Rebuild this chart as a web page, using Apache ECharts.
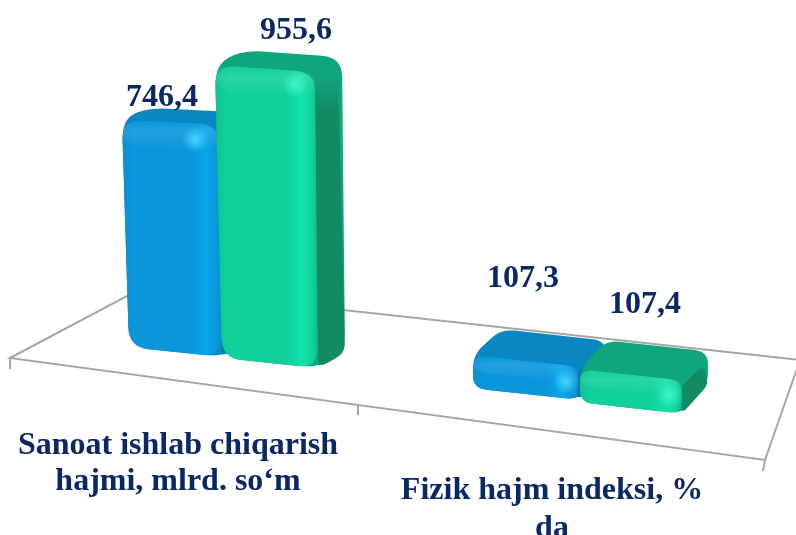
<!DOCTYPE html>
<html>
<head>
<meta charset="utf-8">
<style>html,body{margin:0;padding:0;background:#fff}#c{width:796px;height:535px}</style>
<script src="https://cdn.jsdelivr.net/npm/echarts@6/dist/echarts.min.js"></script>
</head>
<body>
<div id="c"></div>
<script>
var categories = ['Sanoat ishlab chiqarish\nhajmi, mlrd. so‘m', 'Fizik hajm indeksi, %\nda'];
var blueValues = [746.4, 107.3];
var greenValues = [955.6, 107.4];

var NAVY = '#0a2766';
var SKINS = [
  {top:'#0887c2', side:'#0778ad', edgeL:'#0a90d2', mid:'#0997da', bright:'#0aa6ec', edgeR:'#0a90cc', glow:'#45d4ff'},
  {top:'#10a67c', side:'#128a63', edgeL:'#0dc493', mid:'#10d19c', bright:'#13e3aa', edgeR:'#0fb88a', glow:'#3ff5c6'}
];
// perspective layout per [category][series], relative to the band centre
var GEO = [
  [{tl:-56,tr:40,bl:-49,br:44,shift:-11,ts:.05,bs:.1,dx:25,dy:-12,r:20,lx:-16,ly:-24,hx:-23,hy:15},
   {tl:37,tr:137,bl:44,br:140,shift:0,ts:.07,bs:.1,dx:27,dy:-15,r:20,lx:118,ly:-38,hx:-20,hy:12}],
  [{tl:-79,tr:26,bl:-79,br:26,shift:31,ts:.11,bs:.11,dx:28,dy:-26,r:13,lx:-29,ly:-82,hx:-12,hy:15},
   {tl:28,tr:130,bl:28,br:130,shift:45,ts:.11,bs:.11,dx:26,dy:-29,r:13,lx:93,ly:-70,hx:-12,hy:15}]
];

function roundPoly(pts, r) {
  var out = [], n = pts.length;
  for (var i = 0; i < n; i++) {
    var p = pts[i], a = pts[(i + n - 1) % n], b = pts[(i + 1) % n];
    var la = Math.hypot(a[0]-p[0], a[1]-p[1]), lb = Math.hypot(b[0]-p[0], b[1]-p[1]);
    var ra = Math.min(r, la/2), rb = Math.min(r, lb/2);
    var s = [p[0]+(a[0]-p[0])*ra/la, p[1]+(a[1]-p[1])*ra/la];
    var e = [p[0]+(b[0]-p[0])*rb/lb, p[1]+(b[1]-p[1])*rb/lb];
    for (var t = 0; t <= 1.001; t += 0.125) {
      var u = 1 - t;
      out.push([u*u*s[0]+2*u*t*p[0]+t*t*e[0], u*u*s[1]+2*u*t*p[1]+t*t*e[1]]);
    }
  }
  return out;
}

function barRenderer(seriesIdx) {
  return function (params, api) {
    var cat = api.value(0), val = api.value(1);
    var g = GEO[cat][seriesIdx], skin = SKINS[seriesIdx];
    var c = api.coord([cat, 0])[0];
    var y0 = api.coord([cat, 0])[1] + g.shift, y1 = api.coord([cat, val])[1] + g.shift;
    var w = g.tr - g.tl;
    var TL = [c+g.tl, y1 - g.ts*w/2], TR = [c+g.tr, y1 + g.ts*w/2];
    var BR = [c+g.br, y0 + g.bs*w/2], BL = [c+g.bl, y0 - g.bs*w/2];
    var bTL = [TL[0]+g.dx, TL[1]+g.dy], bTR = [TR[0]+g.dx, TR[1]+g.dy], bBR = [BR[0]+g.dx, BR[1]+g.dy];
    var sil = roundPoly([TL, bTL, bTR, bBR, BR, BL], g.r);
    var side = roundPoly([[TR[0]-2,TR[1]+8], [bTR[0]-g.dx*0.15,bTR[1]+g.r*0.9], [bBR[0],bBR[1]], [BR[0],BR[1]]], g.r*0.5);
    var front = roundPoly([TL, TR, BR, BL], g.r);
    var bevel = roundPoly([TL, TR, [TR[0]+(BR[0]-TR[0])*.1, TR[1]+Math.min(26,(BR[1]-TR[1])*.5)], [TL[0]+(BL[0]-TL[0])*.1, TL[1]+Math.min(26,(BL[1]-TL[1])*.5)]], g.r);
    var grad = {type:'linear',x:0,y:0,x2:1,y2:0,colorStops:[
      {offset:0,color:skin.edgeL},{offset:.12,color:skin.mid},{offset:.7,color:skin.mid},
      {offset:.84,color:skin.bright},{offset:.95,color:skin.mid},{offset:1,color:skin.edgeR}]};
    var bevelGrad = {type:'linear',x:0,y:0,x2:0,y2:1,colorStops:[
      {offset:0,color:'rgba(255,255,255,0)'},{offset:.35,color:'rgba(255,255,255,.1)'},{offset:1,color:'rgba(255,255,255,0)'}]};
    var sideGrad = {type:'linear',x:0,y:0,x2:0,y2:1,colorStops:[
      {offset:0,color:skin.top},{offset:.12,color:skin.side},{offset:1,color:skin.side}]};
    return {type:'group',children:[
      {type:'polygon',shape:{points:sil},style:{fill:skin.top}},
      {type:'polygon',shape:{points:side},style:{fill:sideGrad}},
      {type:'polygon',shape:{points:front},style:{fill:grad}},
      {type:'polygon',shape:{points:bevel},style:{fill:bevelGrad}},
      {type:'circle',shape:{cx:TR[0]+g.hx,cy:TR[1]+g.hy,r:13},style:{fill:{type:'radial',x:.5,y:.5,r:.5,colorStops:[
        {offset:0,color:skin.glow},{offset:1,color:skin.glow+'00'}]}}},
      {type:'text',style:{x:c+g.lx,y:y1+g.ly,text:String(val).replace('.',','),fill:NAVY,
        font:'bold 32px "Liberation Serif", serif',textAlign:'center',textVerticalAlign:'middle'},z2:10}
    ]};
  };
}

function seriesData(vals) { return vals.map(function (v, i) { return [i, v]; }); }

var chart = echarts.init(document.getElementById('c'), null, {renderer:'canvas'});
chart.setOption({
  animation:false,
  backgroundColor:'#fff',
  grid:{left:-9,width:748,top:55,height:308,containLabel:false,outerBoundsMode:'none'},
  xAxis:{type:'category',data:categories,
    axisLine:{show:false},axisTick:{show:false},splitLine:{show:false},
    axisLabel:{interval:0,margin:65,hideOverlap:false,
      formatter:function (v, i) {
        var lines = v.split('\n').map(function (l) { return '{c'+i+'|'+l+'}'; });
        return (i === 1 ? ['{gap| }'] : []).concat(lines).join('\n');
      },
      rich:{
        c0:{fontWeight:'bold',fontSize:32,fontFamily:'Liberation Serif',color:NAVY,lineHeight:36,align:'center'},
        c1:{fontWeight:'bold',fontSize:32,fontFamily:'Liberation Serif',color:NAVY,lineHeight:38,align:'center'},
        gap:{fontSize:10,lineHeight:44}
      }
    }},
  yAxis:{type:'value',min:0,max:1000,show:false},
  graphic:{elements:[
    {type:'polygon',silent:true,z:0,shape:{points:[[10,358],[142,288],[800,360],[765,460]]},style:{fill:'#fff',stroke:'#a6a6a6',lineWidth:2}},
    {type:'line',silent:true,z:0,shape:{x1:10,y1:358,x2:10,y2:369},style:{stroke:'#a6a6a6',lineWidth:2}},
    {type:'line',silent:true,z:0,shape:{x1:358,y1:405,x2:358,y2:415},style:{stroke:'#a6a6a6',lineWidth:2}},
    {type:'line',silent:true,z:0,shape:{x1:765,y1:460,x2:763,y2:471},style:{stroke:'#a6a6a6',lineWidth:2}}
  ]},
  series:[
    {type:'custom',name:'blue',coordinateSystem:'cartesian2d',data:seriesData(blueValues),renderItem:barRenderer(0),encode:{x:0,y:1},z:2},
    {type:'custom',name:'green',coordinateSystem:'cartesian2d',data:seriesData(greenValues),renderItem:barRenderer(1),encode:{x:0,y:1},z:3}
  ]
});
</script>
</body>
</html>
